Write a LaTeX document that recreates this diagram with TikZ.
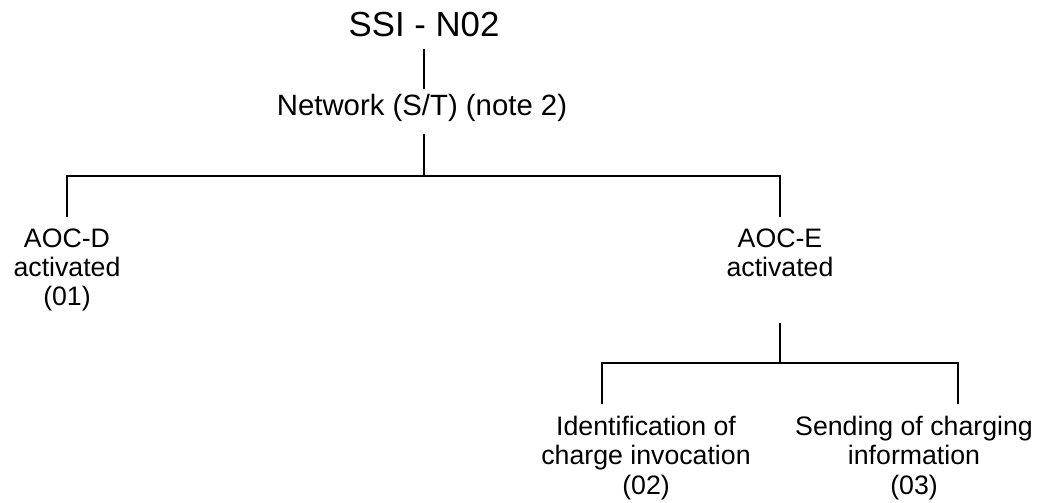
\documentclass[tikz,border=0pt]{standalone}
\usepackage{fontspec}
\setmainfont{Liberation Sans}
\usepackage{tikz}
\usetikzlibrary{positioning}
\tikzstyle{hdr}=[font=\fontsize{19.8}{23}\selectfont,inner sep=0mm,outer ysep=6.8pt]
\tikzstyle{svc}=[font=\fontsize{15.2}{16.6}\selectfont,align=center,inner sep=0mm,outer ysep=6.8pt]
\tikzset{every picture/.style={
    line width=1.14pt
  }
}

\begin{document}
\begin{tikzpicture}[x=0.02cm,y=-0.02cm]
        \useasboundingbox (0,0) rectangle (1047,503);
        \node[hdr,anchor=base] at (424,37) (ssi) {SSI - N02};
        \node[svc,anchor=base,font=\fontsize{16.7}{19}\selectfont] at (422,115.5) (net) {Network (S/T) (note 2)};
        \node[svc] at (67,270) (aocd) {AOC-D\\activated\\(01)};
        \node[svc] at (780,270) (aoce) {AOC-E\\activated\\\phantom{(00)}};
        \node[svc] at (646,458) (idn) {Identification of\\charge invocation\\(02)};
        \node[svc] at (914,458) (snd) {Sending of charging\\information\\(03)};
        \coordinate (j1) at (424,176);
        \coordinate (j2) at (780,363);
        \coordinate (b1) at (602,363);
        \coordinate (b2) at (958,363);
        \draw[shorten >=-4pt] (ssi) -- (net.north -| ssi);
        \draw (net.south -| j1) -- (j1);
        \draw (aocd) |- (j1) -| (aoce);
        \draw (aoce) -- (j2);
        \draw (idn.north -| b1) -- (b1) -- (b2) -- (snd.north -| b2);
      \end{tikzpicture}
\end{document}
